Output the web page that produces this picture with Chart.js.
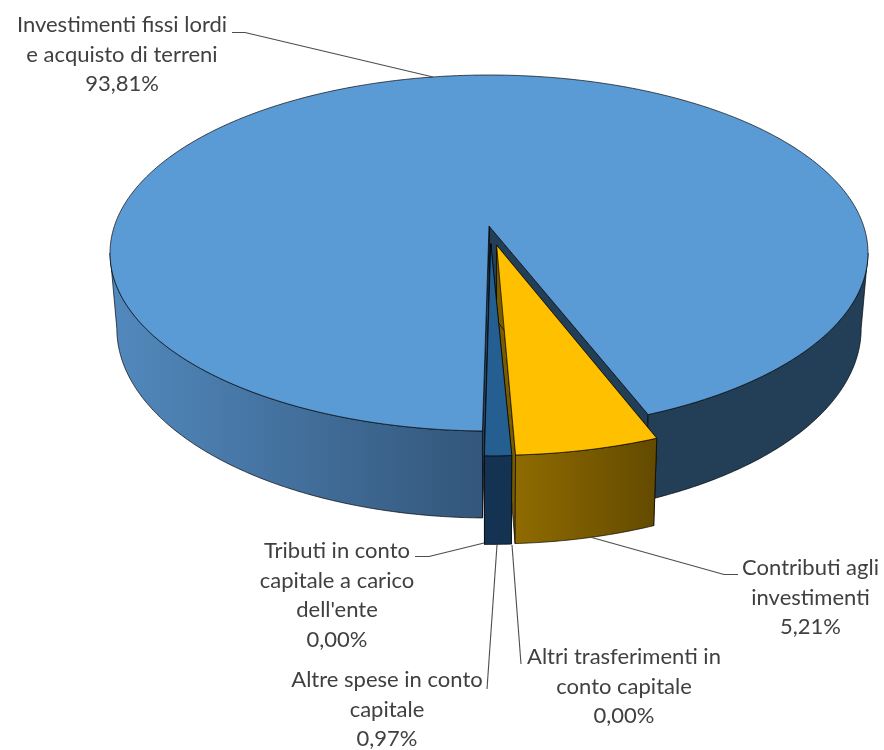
<!DOCTYPE html>
<html><head><meta charset="utf-8">
<style>html,body{margin:0;padding:0;background:#fff}canvas{display:block}</style>
<script src="https://cdn.jsdelivr.net/npm/chart.js@4"></script>
</head><body>
<canvas id="c" width="884" height="750"></canvas>
<script>
const categories = ["Contributi agli investimenti","Altri trasferimenti in conto capitale","Altre spese in conto capitale","Tributi in conto capitale a carico dell'ente","Investimenti fissi lordi e acquisto di terreni"];
const values = [5.21,0.00,0.97,0.00,93.81];
const labelLines = [["Contributi agli","investimenti"],["Altri trasferimenti in","conto capitale"],["Altre spese in conto","capitale"],["Tributi in conto","capitale a carico","dell'ente"],["Investimenti fissi lordi","e acquisto di terreni"]];
const topColors = ["#FFC000","#A5A5A5","#255E91","#ED7D31","#5B9BD5"];
const explosions = [36,36,36,36,0];

// projection of the pie's plane on the page (perspective view from above)
const PX=489,PY=226,A=374.6,B=173.9,K=0.1517,D=73.8,F=0.982;
function proj(u,v,h){const s=1/(1-K*v);return [PX+A*u*s*(1-(1-F)*h),PY+B*v*s+h*D*s];}
const wallStyles = {0:[["#8F6B00","#634A00"]],2:[["#143352","#143352"]],4:[["#5289BE","#33567A"],["#233F57","#233F57"]]};
const cutColors = {0:"#7A5C00",2:"#143352",4:"#233F57"};
const nudgeU = {0:-0.008,2:0.003,4:0};
const apexNudge = {0:[0.007,0.01],2:[0,0],4:[0,0]};
const labelPos = [[810.5,568],[624,657],[387,680],[337,551],[122,25]];
const leaders = [[[738,574.5],[724,574.5],[590,537]],[[521,664],[512,545]],[[487,689],[497,545]],[[415,556.5],[429,556.5],[484,543]],[[232,32.5],[245,32.5],[433,77]]];

const pie3d={id:'pie3d',beforeDatasetsDraw(chart){
  const ctx=chart.ctx,els=chart.getDatasetMeta(0).data;
  ctx.save();ctx.lineJoin='round';
  const tan=Math.asin(K);
  const poly=(pts,fill)=>{ctx.beginPath();pts.forEach((p,j)=>j?ctx.lineTo(p[0],p[1]):ctx.moveTo(p[0],p[1]));ctx.closePath();ctx.fillStyle=fill;ctx.fill();ctx.strokeStyle='rgba(0,0,0,.75)';ctx.lineWidth=.9;ctx.stroke();};
  const geom=i=>{
    const el=els[i],a0=el.startAngle,a1=el.endAngle,R=el.outerRadius,mid=(a0+a1)/2;
    const off=(el.options.offset||0)/R,ou=off*Math.cos(mid)+nudgeU[i],ov=off*Math.sin(mid);
    const pt=(a,r,h)=>r?proj(ou+r*Math.cos(a),ov+r*Math.sin(a),h):proj(ou+apexNudge[i][0],ov+apexNudge[i][1],h);
    return {a0,a1,pt};
  };
  const arcPts=(g,s,e,h)=>{const n=Math.max(2,Math.ceil(Math.abs(e-s)/0.01)),o=[];for(let j=0;j<=n;j++)o.push(g.pt(s+(e-s)*j/n,1,h));return o;};
  const cuts=i=>{const g=geom(i);for(const a of [g.a1,g.a0]) poly([g.pt(a,0,0),g.pt(a,1,0),g.pt(a,1,1),g.pt(a,0,1)],cutColors[i]);};
  const body=i=>{
    const g=geom(i),a0=g.a0,a1=g.a1,segs=[];
    // outer wall, only where it faces the viewer
    for(const k of [0,2*Math.PI]){const s=Math.max(a0,k+tan),e=Math.min(a1,k+Math.PI-tan);if(e>s)segs.push([s,e]);}
    segs.forEach((sg,n)=>{
      const pts=arcPts(g,sg[0],sg[1],0).concat(arcPts(g,sg[0],sg[1],1).reverse());
      const xs=pts.map(p=>p[0]),x0=Math.min(...xs),x1=Math.max(...xs);
      const st=wallStyles[i][n]||wallStyles[i][0];
      const lg=ctx.createLinearGradient(x0,0,x1,0);lg.addColorStop(0,st[0]);lg.addColorStop(1,st[1]);
      poly(pts,lg);
    });
    // top face
    poly([g.pt(a0,0,0)].concat(arcPts(g,a0,a1,0)),topColors[i]);
  };
  cuts(4);body(4);cuts(0);cuts(2);body(2);body(0);
  // leader lines
  ctx.strokeStyle='#4d4d4d';ctx.lineWidth=1.1;
  leaders.forEach(l=>{ctx.beginPath();l.forEach((p,j)=>j?ctx.lineTo(p[0],p[1]):ctx.moveTo(p[0],p[1]));ctx.stroke();});
  // labels
  ctx.fillStyle='#404040';ctx.font='22px Lato, "Open Sans", sans-serif';ctx.textAlign='center';ctx.textBaseline='middle';
  categories.forEach((c,i)=>{
    const lines=labelLines[i].concat([values[i].toFixed(2).replace('.',',')+'%']);
    lines.forEach((t,j)=>ctx.fillText(t,labelPos[i][0],labelPos[i][1]+j*29.7));
  });
  ctx.restore();
  return false;
}};

new Chart(document.getElementById('c'),{type:'pie',
 data:{labels:categories,datasets:[{data:values,backgroundColor:topColors,offset:explosions,borderWidth:0}]},
 options:{responsive:false,animation:false,rotation:158.6,layout:{padding:0},plugins:{legend:{display:false},tooltip:{enabled:false}}},
 plugins:[pie3d]});
</script>
</body></html>
